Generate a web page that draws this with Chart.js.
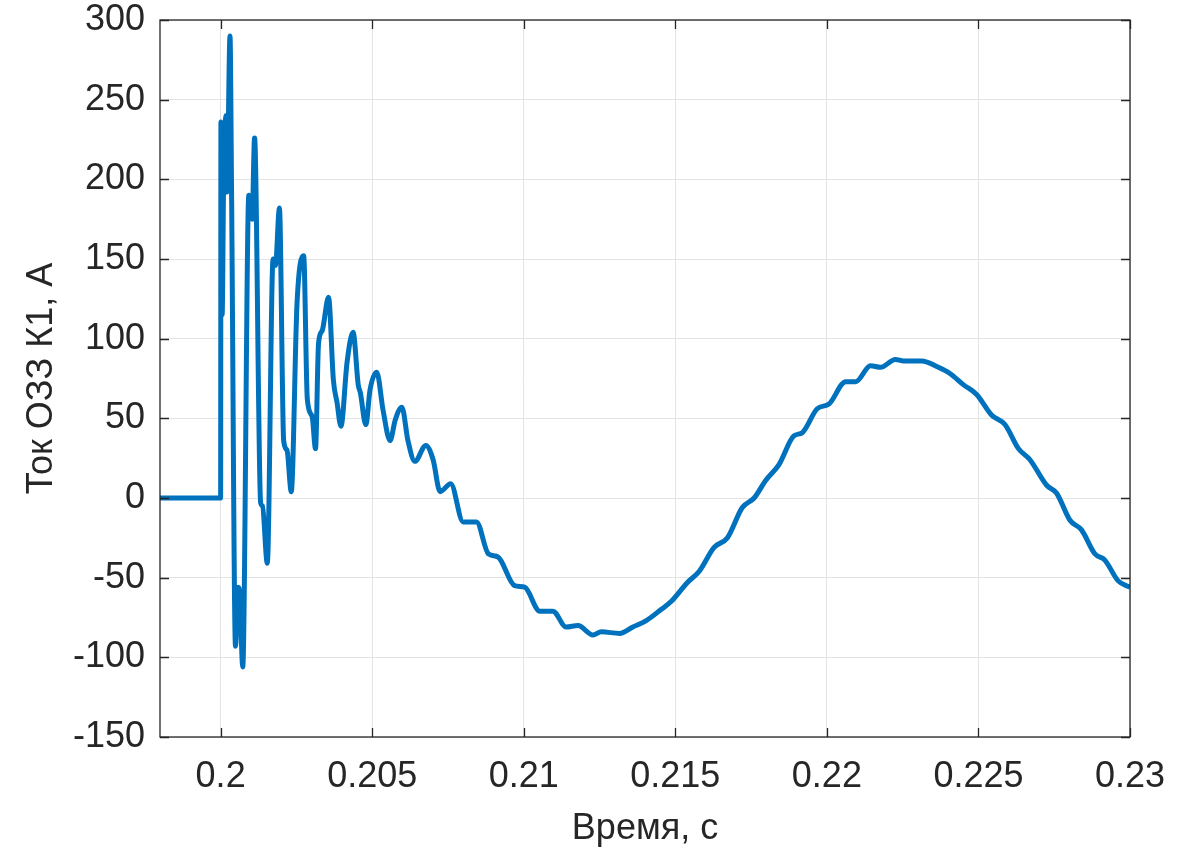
<!DOCTYPE html>
<html><head><meta charset="utf-8">
<script src="https://cdn.jsdelivr.net/npm/chart.js@4/dist/chart.umd.min.js"></script>
<style>html,body{margin:0;padding:0;background:#fff}#wrap{width:1197px;height:853px}</style>
</head><body><div id="wrap"><canvas id="c" width="1197" height="853"></canvas></div>
<script>
const times = [0.198,0.2,0.20001,0.20005,0.2001,0.20018,0.20021,0.20031,0.20036,0.20049,0.20058,0.20063,0.20073,0.20093,0.20104,0.20112,0.20132,0.20138,0.20154,0.20173,0.20181,0.20194,0.20208,0.20219,0.20233,0.20252,0.20274,0.20286,0.20302,0.20313,0.20323,0.20335,0.20356,0.20372,0.20384,0.20397,0.20417,0.20437,0.20454,0.20461,0.20479,0.20493,0.20515,0.20536,0.20559,0.20576,0.20598,0.20618,0.20641,0.20677,0.20701,0.20724,0.20759,0.208,0.20844,0.20883,0.20915,0.2097,0.21003,0.21053,0.21096,0.2114,0.21179,0.21228,0.21256,0.21316,0.2136,0.21404,0.21453,0.21486,0.2154,0.21579,0.21628,0.21672,0.21721,0.2176,0.21798,0.21842,0.21891,0.21919,0.21968,0.22007,0.22062,0.22095,0.22144,0.22177,0.22226,0.22253,0.22313,0.22368,0.22407,0.22451,0.22494,0.22544,0.22588,0.22632,0.2267,0.22725,0.22758,0.22802,0.2284,0.22884,0.22917,0.22961,0.23];
const current = [0,0,236,115,200,240,192,290,195,-93,-56,-60,-106,190,175,226,-3,-5,-41,150,146,182,36,30,4,122,152,62,51,31,97,105,126,74,60,45,85,104,71,66,46,68,79,55,36,49,57,36,23,33,24,4,9,-15,-15,-35,-37,-55,-56,-71,-71,-81,-80,-86,-84,-85,-81,-77,-70,-65,-53,-46,-31,-25,-6,0,11,21,39,41,56,59,73,73,83,82,87,86,86,82,78,71,65,52,46,31,24,8,3,-14,-20,-35,-39,-52,-56];
const xTickValues = [0.2,0.205,0.21,0.215,0.22,0.225,0.23];
const xTickLabels = ['0.2','0.205','0.21','0.215','0.22','0.225','0.23'];
const yTickValues = [-150,-100,-50,0,50,100,150,200,250,300];
const xTitle = 'Время, с';
const yTitle = 'Ток ОЗЗ К1, А';

const points = times.map((t,i)=>({x:t,y:current[i]}));
const FONT = "'Liberation Sans', Arial, Helvetica, sans-serif";
const TXT = '#262626';

const boxPlugin = {
  id:'box',
  afterDraw(chart){
    const {ctx, chartArea:a, scales} = chart;
    ctx.save();
    ctx.strokeStyle = TXT;
    ctx.lineWidth = 1.3;
    ctx.beginPath();
    xTickValues.forEach(v=>{
      const x = Math.round(scales.x.getPixelForValue(v))+0.5;
      ctx.moveTo(x,a.bottom); ctx.lineTo(x,a.bottom-9);
      ctx.moveTo(x,a.top); ctx.lineTo(x,a.top+9);
    });
    yTickValues.forEach(v=>{
      const y = Math.round(scales.y.getPixelForValue(v))+0.5;
      ctx.moveTo(a.left,y); ctx.lineTo(a.left+9,y);
      ctx.moveTo(a.right,y); ctx.lineTo(a.right-9,y);
    });
    ctx.stroke();
    ctx.strokeRect(a.left, a.top, a.right-a.left, a.bottom-a.top);
    ctx.restore();
  }
};

new Chart(document.getElementById('c'), {
  type:'line',
  data:{datasets:[{data:points, borderColor:'#0072BD', borderWidth:5, pointRadius:0, cubicInterpolationMode:'monotone', fill:false}]},
  options:{
    responsive:false, animation:false, devicePixelRatio:1,
    layout:{padding:{top:20,right:67,left:0,bottom:0}},
    plugins:{legend:{display:false}, tooltip:{enabled:false}},
    scales:{
      x:{type:'linear', min:0.198, max:0.23,
        afterBuildTicks(s){ s.ticks = xTickValues.map(v=>({value:v})); },
        afterFit(s){ s.height = 116; s.paddingLeft = 0; s.paddingRight = 0; },
        grid:{color:'#e3e3e3', lineWidth:1, drawTicks:false},
        border:{display:false},
        ticks:{padding:18, color:TXT, font:{family:FONT,size:36}, maxRotation:0, autoSkip:false,
          callback:(v,i)=>xTickLabels[i]},
        title:{display:true, text:xTitle, color:TXT, font:{family:FONT,size:36}, padding:{top:2,bottom:2}}
      },
      y:{type:'linear', min:-150, max:300,
        afterBuildTicks(s){ s.ticks = yTickValues.map(v=>({value:v})); },
        afterFit(s){ s.width = 160; s.paddingTop = 0; s.paddingBottom = 0; },
        grid:{color:'#e3e3e3', lineWidth:1, drawTicks:false},
        border:{display:false},
        ticks:{padding:15, color:TXT, font:{family:FONT,size:36}, autoSkip:false,
          callback:(v)=>String(v)},
        title:{display:true, text:yTitle, color:TXT, font:{family:FONT,size:36}, padding:{top:20,bottom:20}}
      }
    }
  },
  plugins:[boxPlugin]
});
</script></body></html>
